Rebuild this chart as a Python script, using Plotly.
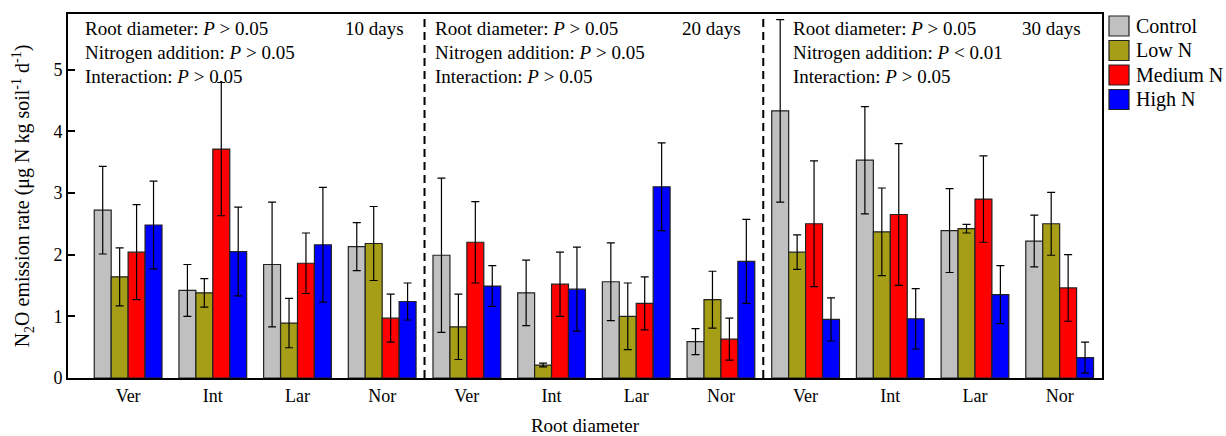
import plotly.graph_objects as go

categories = ["Ver", "Int", "Lar", "Nor"]
periods = ["10 days", "20 days", "30 days"]
treatments = ["Control", "Low N", "Medium N", "High N"]
colors = ["#C0C0C0", "#A59E16", "#FF0000", "#0000FF"]

control = [2.72, 1.42, 1.84, 2.13, 1.99, 1.38, 1.56, 0.59, 4.33, 3.53, 2.39, 2.22]
control_err = [0.71, 0.42, 1.01, 0.39, 1.25, 0.53, 0.63, 0.21, 1.48, 0.87, 0.68, 0.42]
low_n = [1.64, 1.38, 0.89, 2.18, 0.83, 0.21, 1.00, 1.27, 2.04, 2.37, 2.42, 2.50]
low_n_err = [0.47, 0.23, 0.40, 0.60, 0.53, 0.03, 0.54, 0.46, 0.28, 0.71, 0.07, 0.51]
medium_n = [2.04, 3.71, 1.86, 0.97, 2.20, 1.52, 1.21, 0.63, 2.50, 2.65, 2.90, 1.46]
medium_n_err = [0.77, 1.08, 0.49, 0.39, 0.66, 0.52, 0.43, 0.34, 1.02, 1.15, 0.70, 0.54]
high_n = [2.48, 2.05, 2.16, 1.24, 1.49, 1.44, 3.10, 1.89, 0.95, 0.96, 1.35, 0.33]
high_n_err = [0.71, 0.72, 0.93, 0.30, 0.33, 0.68, 0.71, 0.68, 0.35, 0.49, 0.47, 0.25]

stats = [
    ["Root diameter: <i>P</i> > 0.05", "Nitrogen addition: <i>P</i> > 0.05", "Interaction: <i>P</i> > 0.05"],
    ["Root diameter: <i>P</i> > 0.05", "Nitrogen addition: <i>P</i> > 0.05", "Interaction: <i>P</i> > 0.05"],
    ["Root diameter: <i>P</i> > 0.05", "Nitrogen addition: <i>P</i> < 0.01", "Interaction: <i>P</i> > 0.05"],
]

series = [(control, control_err), (low_n, low_n_err), (medium_n, medium_n_err), (high_n, high_n_err)]

FONT = "Liberation Serif"
n = len(categories) * len(periods)
xs = list(range(n))
ticktext = categories * len(periods)

fig = go.Figure()
for name, color, (vals, errs) in zip(treatments, colors, series):
    fig.add_trace(go.Bar(
        x=xs, y=vals, name=name,
        marker=dict(color=color, line=dict(color="#222222", width=1.2)),
        error_y=dict(type="data", array=errs, visible=True, color="black", thickness=1.2, width=4),
        showlegend=False,
    ))

shapes = []
for k in range(1, len(periods)):
    xsep = k * len(categories) - 0.5
    shapes.append(dict(type="line", xref="x", yref="paper", x0=xsep, x1=xsep, y0=0, y1=1,
                       line=dict(color="black", width=2, dash="8px,5px")))

annotations = []
x_left = -0.71
x_right = 11.5
left_shift = [15, 8, 28]
right_shift = [-19, -20, -19]
line_y = [5.67, 5.28, 4.88]
for k, per in enumerate(periods):
    start = x_left if k == 0 else k * len(categories) - 0.5
    end = x_right if k == len(periods) - 1 else (k + 1) * len(categories) - 0.5
    for j, line in enumerate(stats[k]):
        annotations.append(dict(x=start, y=line_y[j], xref="x", yref="y", text=line,
                                showarrow=False, xanchor="left", yanchor="middle",
                                xshift=left_shift[k],
                                font=dict(family=FONT, size=19, color="black")))
    annotations.append(dict(x=end, y=line_y[0], xref="x", yref="y", text=per, showarrow=False,
                            xanchor="right", yanchor="middle", xshift=right_shift[k],
                            font=dict(family=FONT, size=19, color="black")))

# custom legend (outside the plot area, right side)
W, H = 1226, 436
PL, PR, PT, PB = 68, 1102, 14, 378
for i, (name, color) in enumerate(zip(treatments, colors)):
    yc = 26 + i * 24.5
    shapes.append(dict(type="rect", xref="paper", yref="paper",
                       x0=(1109 - PL) / (PR - PL), x1=(1129 - PL) / (PR - PL),
                       y0=(PB - (yc + 10)) / (PB - PT), y1=(PB - (yc - 10)) / (PB - PT),
                       fillcolor=color, line=dict(color="#222222", width=1.2)))
    annotations.append(dict(xref="paper", yref="paper", x=(1134 - PL) / (PR - PL),
                            y=(PB - yc) / (PB - PT), text=name, showarrow=False,
                            xanchor="left", yanchor="middle",
                            font=dict(family=FONT, size=20, color="black")))

fig.update_layout(
    width=W, height=H,
    margin=dict(l=PL, r=W - PR, t=PT, b=H - PB),
    plot_bgcolor="white", paper_bgcolor="white",
    barmode="group", bargap=0.2, bargroupgap=0,
    font=dict(family=FONT, size=18, color="black"),
    shapes=shapes, annotations=annotations,
    xaxis=dict(range=[x_left, x_right], tickmode="array", tickvals=xs, ticktext=ticktext,
               ticks="", showline=True, linecolor="black", linewidth=2, mirror=True,
               showgrid=False, zeroline=False, automargin=False,
               title=dict(text="Root diameter", font=dict(family=FONT, size=19), standoff=16),
               tickfont=dict(family=FONT, size=18)),
    yaxis=dict(range=[0, 5.9], tickvals=[0, 1, 2, 3, 4, 5], ticks="inside", ticklen=7,
               tickwidth=2, tickcolor="black", showline=True, linecolor="black", linewidth=2,
               mirror=True, showgrid=False, zeroline=False, automargin=False,
               title=dict(text="N<sub>2</sub>O emission rate (μg N kg soil<sup>-1</sup> d<sup>-1</sup>)",
                          font=dict(family=FONT, size=20), standoff=18),
               tickfont=dict(family=FONT, size=18)),
)

fig.write_html("out.html")
